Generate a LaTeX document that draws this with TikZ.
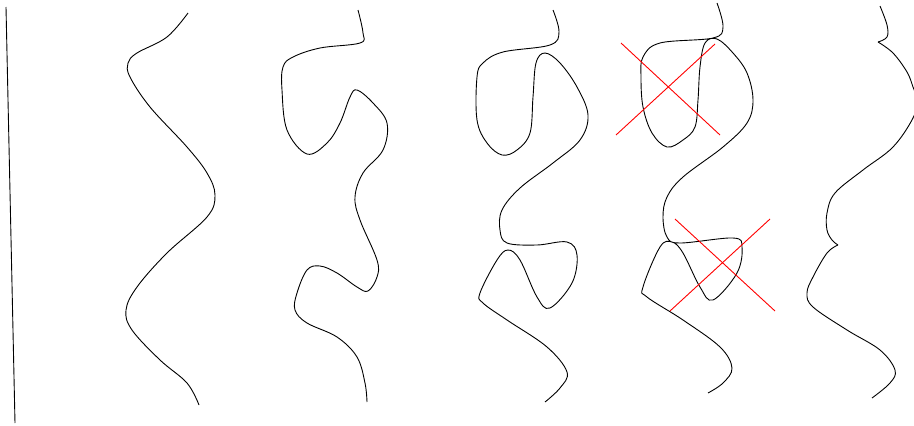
\documentclass[tikz,border=0pt]{standalone}
\usepackage{tikz}
\usetikzlibrary{calc}
\tikzset{
    strand/.style={draw=black, line width=0.9pt, line join=round},
    crossout/.style={draw=red, line width=0.9pt},
    axisline/.style={draw=black, line width=0.9pt}
}

\begin{document}
\begin{tikzpicture}[x=1pt, y=-1pt]
    \useasboundingbox (0,0) rectangle (914,426);
    \clip (0,0) rectangle (914,426);

    % Axis on the left
    \coordinate (axtop) at (6,7);
    \coordinate (axbot) at (15,423);
    \draw[axisline] (axtop) -- (axbot);

    % Strand 1
    \draw[strand] plot[smooth, tension=0.6] coordinates {(188,13) (167,37) (137,53) (128,63) (130,77) (150,107) (187,147) (207,173) (215,195) (207,217) (167,253) (137,287) (126,310) (132,330) (160,360) (187,383) (199,405)};

    % Strand 2
    \draw[strand] plot[smooth, tension=0.6] coordinates {(358,10) (363,33) (360,43) (320,48) (293,57) (283,67) (282,90) (287,130) (307,154) (327,143) (340,123) (350,97) (357,90) (373,103) (387,123) (383,150) (363,173) (355,197) (360,220) (377,260) (377,277) (368,291) (357,287) (337,273) (320,266) (307,270) (297,293) (295,310) (307,323) (337,337) (357,357) (365,383) (367,402)};

    % Strand 3
    \draw[strand] plot[smooth, tension=0.6] coordinates {(553,10) (559,32) (550,45) (503,52) (483,63) (477,77) (477,120) (487,143) (502,155) (517,150) (530,133) (533,97) (536,63) (545,53) (560,63) (577,87) (588,115) (580,140) (553,163) (520,188) (502,210) (500,230) (507,243) (537,245) (567,242) (577,255) (572,283) (550,308) (537,297) (520,260) (508,250) (497,260) (480,293) (483,303) (507,320) (547,347) (567,372) (560,388) (545,402)};

    % Strand 4
    \draw[strand] plot[smooth, tension=0.6] coordinates {(717,3) (723,27) (713,38) (660,43) (643,57) (641,77) (643,107) (652,133) (667,147) (683,140) (695,127) (698,100) (700,67) (705,43) (717,39) (733,53) (747,73) (753,100) (747,123) (723,147) (683,177) (667,197) (663,217) (667,237) (680,243) (733,238) (742,247) (737,273) (713,300) (700,287) (683,253) (672,242) (660,247) (643,287) (647,297) (683,320) (720,347) (732,368) (723,383) (708,393)};

    % Crosses over the loops
    \coordinate (ca1) at (621,43);  \coordinate (ca2) at (720,135);
    \coordinate (ca3) at (616,135); \coordinate (ca4) at (715,44);
    \coordinate (cb1) at (675,219); \coordinate (cb2) at (775,311);
    \coordinate (cb3) at (670,311); \coordinate (cb4) at (770,219);
    \draw[crossout] (ca1) -- (ca2);
    \draw[crossout] (ca3) -- (ca4);
    \draw[crossout] (cb1) -- (cb2);
    \draw[crossout] (cb3) -- (cb4);

    % Strand 5 (with cusps)
    \draw[strand] plot[smooth, tension=0.6] coordinates {(880,6) (887,25) (887,37) (878,42)};
    \draw[strand] plot[smooth, tension=0.6] coordinates {(878,42) (893,53) (907,72) (913,87) (917,100) (913,118) (893,147) (863,170) (835,193) (827,213) (827,230) (832,240) (838,245)};
    \draw[strand] plot[smooth, tension=0.6] coordinates {(838,245) (827,253) (813,277) (807,293) (813,307) (847,330) (880,350) (895,370) (890,383) (872,398)};

\end{tikzpicture}
\end{document}
